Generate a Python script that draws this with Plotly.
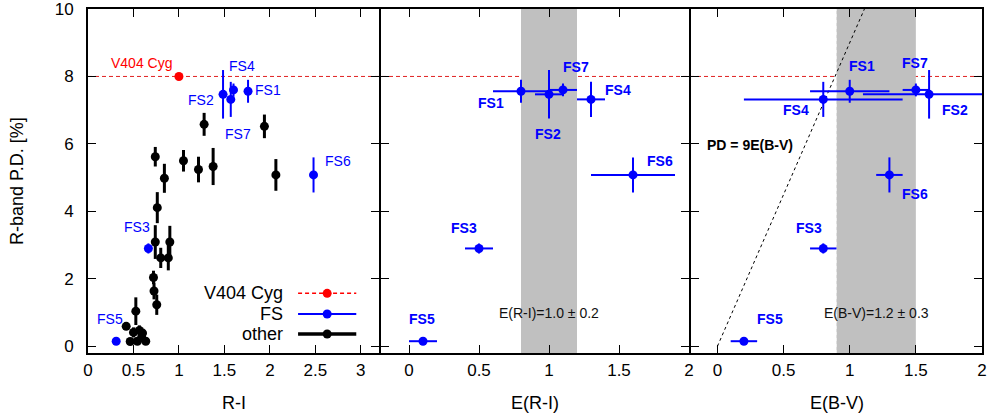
import plotly.graph_objects as go

# ---------------- data ----------------
fs_names = ["FS1", "FS2", "FS3", "FS4", "FS5", "FS6", "FS7"]
fs_ri = [1.76, 1.485, 0.664, 1.57, 0.31, 2.48, 1.60]
fs_pd = [7.56, 7.47, 2.90, 7.32, 0.15, 5.08, 7.60]
fs_pd_err = [0.34, 0.72, 0.15, 0.52, 0.05, 0.52, 0.19]
fs_eri = [0.8, 1.0, 0.5, 1.3, 0.1, 1.6, 1.1]
fs_eri_err = [0.2, 0.1, 0.1, 0.1, 0.1, 0.3, 0.1]
fs_ebv = [1.0, 1.6, 0.8, 0.8, 0.2, 1.3, 1.5]
fs_ebv_err = [0.3, 0.5, 0.1, 0.6, 0.1, 0.1, 0.1]

v404_ri = [1.0]
v404_pd = [8.0]

other_ri = [1.277, 1.94, 0.74, 0.84, 1.05, 1.215, 1.376, 2.066, 0.762, 0.74,
            0.90, 0.80, 0.883, 0.72, 0.726, 0.756, 0.526, 0.42, 0.464, 0.50,
            0.543, 0.565, 0.60, 0.635, 0.59]
other_pd = [6.58, 6.52, 5.62, 4.98, 5.50, 5.24, 5.33, 5.08, 4.11, 3.09,
            3.09, 2.62, 2.62, 2.04, 1.64, 1.23, 1.04, 0.59, 0.14, 0.41,
            0.15, 0.47, 0.39, 0.15, 0.27]
other_err = [0.34, 0.35, 0.29, 0.43, 0.32, 0.38, 0.55, 0.47, 0.46, 0.50,
             0.48, 0.30, 0.37, 0.20, 0.25, 0.30, 0.41, 0.08, 0.10, 0.15,
             0.10, 0.15, 0.12, 0.10, 0.10]

eri_mean, eri_sig = 1.0, 0.2
ebv_mean, ebv_sig = 1.2, 0.3
pd_slope = 9.0

x_ticks_left = [0, 0.5, 1, 1.5, 2, 2.5, 3]
x_ticks_right = [0, 0.5, 1, 1.5, 2]
y_ticks = [0, 2, 4, 6, 8, 10]

# ---------------- styling ----------------
FONT = "Liberation Sans, Arial, Helvetica, sans-serif"
BLUE = "#0000ff"
RED = "#ff0000"
BLACK = "#000000"

# panel domains (plot area is 894 px wide; a 2 px gap lets neighbouring
# frame lines land on top of each other)
W = 894.0
dom_left = [0, 291 / W]
dom_mid = [293 / W, 601 / W]
dom_right = [603 / W, 1.0]

# label offsets (pixels) for each FS label, per panel: (dx, dy)
lab_left = {"FS1": (20, 1), "FS2": (-22, -6), "FS3": (-11, 21), "FS4": (11, 33),
            "FS5": (-6, 22), "FS6": (24, 14), "FS7": (4, -44)}
lab_mid = {"FS1": (-30, -12), "FS2": (-1, -40), "FS3": (-15, 20), "FS4": (27, 9),
           "FS5": (-1, 22), "FS6": (27, 14), "FS7": (13, 23)}
lab_right = {"FS1": (12, 25), "FS2": (26, -16), "FS3": (-14, 20), "FS4": (-27, -11),
             "FS5": (26, 22), "FS6": (26, -19), "FS7": (-1, 27)}

fig = go.Figure()

# ---- left panel: P.D. vs R-I ----
fig.add_trace(go.Scatter(
    x=other_ri, y=other_pd, mode="markers",
    marker=dict(color=BLACK, size=9),
    error_y=dict(type="data", array=other_err, color=BLACK, thickness=3, width=0),
    xaxis="x", yaxis="y", showlegend=False))
fig.add_trace(go.Scatter(
    x=fs_ri, y=fs_pd, mode="markers",
    marker=dict(color=BLUE, size=9),
    error_y=dict(type="data", array=fs_pd_err, color=BLUE, thickness=2, width=0),
    xaxis="x", yaxis="y", showlegend=False))
fig.add_trace(go.Scatter(
    x=v404_ri, y=v404_pd, mode="markers",
    marker=dict(color=RED, size=9),
    xaxis="x", yaxis="y", showlegend=False))

# ---- middle panel: P.D. vs E(R-I) ----
fig.add_trace(go.Scatter(
    x=fs_eri, y=fs_pd, mode="markers",
    marker=dict(color=BLUE, size=9),
    error_x=dict(type="data", array=fs_eri_err, color=BLUE, thickness=2, width=0),
    error_y=dict(type="data", array=fs_pd_err, color=BLUE, thickness=2, width=0),
    xaxis="x2", yaxis="y2", showlegend=False))

# ---- right panel: P.D. vs E(B-V) ----
line_x = [0.0, 10.0 / pd_slope]
fig.add_trace(go.Scatter(
    x=line_x, y=[pd_slope * v for v in line_x], mode="lines",
    line=dict(color=BLACK, width=1, dash="dot"),
    xaxis="x3", yaxis="y3", showlegend=False))
fig.add_trace(go.Scatter(
    x=fs_ebv, y=fs_pd, mode="markers",
    marker=dict(color=BLUE, size=9),
    error_x=dict(type="data", array=fs_ebv_err, color=BLUE, thickness=2, width=0),
    error_y=dict(type="data", array=fs_pd_err, color=BLUE, thickness=2, width=0),
    xaxis="x3", yaxis="y3", showlegend=False))

# ---- hand-made key in the left panel (text on the left, sample on the right) ----
key_text_x = 2.17
key_x0, key_x1, key_xm = 2.31, 2.95, 2.63
key_rows = [
    ("V404 Cyg", 1.57, RED, 1.5, "4px,3px"),
    ("FS", 0.956, BLUE, 2, "solid"),
    ("other", 0.363, BLACK, 3.5, "solid"),
]
annotations = []
for name, ky, col, lw, dash in key_rows:
    fig.add_trace(go.Scatter(
        x=[key_x0, key_x1], y=[ky, ky], mode="lines",
        line=dict(color=col, width=lw, dash=dash),
        xaxis="x", yaxis="y", showlegend=False, hoverinfo="skip"))
    fig.add_trace(go.Scatter(
        x=[key_xm], y=[ky], mode="markers",
        marker=dict(color=col, size=9),
        xaxis="x", yaxis="y", showlegend=False, hoverinfo="skip"))
    annotations.append(dict(
        x=key_text_x, y=ky, xref="x", yref="y", text=name, showarrow=False,
        xanchor="right", yanchor="middle",
        font=dict(family=FONT, size=18, color=BLACK)))

# ---- FS labels ----
def add_labels(xs, offsets, xref, yref, bold):
    for name, xv, yv in zip(fs_names, xs, fs_pd):
        dx, dy = offsets[name]
        annotations.append(dict(
            x=xv, y=yv, xref=xref, yref=yref,
            text=f"<b>{name}</b>" if bold else name,
            showarrow=False, xanchor="center", yanchor="middle",
            xshift=dx, yshift=dy,
            font=dict(family=FONT, size=14, color=BLUE)))

add_labels(fs_ri, lab_left, "x", "y", False)
add_labels(fs_eri, lab_mid, "x2", "y2", True)
add_labels(fs_ebv, lab_right, "x3", "y3", True)

annotations.append(dict(
    x=v404_ri[0], y=v404_pd[0], xref="x", yref="y", text="V404 Cyg",
    showarrow=False, xanchor="center", yanchor="middle", xshift=-37, yshift=13,
    font=dict(family=FONT, size=14, color=RED)))

annotations.append(dict(
    x=eri_mean, y=0.99, xref="x2", yref="y2",
    text=f"E(R-I)={eri_mean:.1f} \u00b1 {eri_sig:.1f}",
    showarrow=False, xanchor="center", yanchor="middle",
    font=dict(family=FONT, size=14, color="#111111")))
annotations.append(dict(
    x=ebv_mean, y=0.99, xref="x3", yref="y3",
    text=f"E(B-V)={ebv_mean:.1f} \u00b1 {ebv_sig:.1f}",
    showarrow=False, xanchor="center", yanchor="middle",
    font=dict(family=FONT, size=14, color="#111111")))
annotations.append(dict(
    x=0.245, y=5.97, xref="x3", yref="y3", text="<b>PD = 9E(B-V)</b>",
    showarrow=False, xanchor="center", yanchor="middle",
    font=dict(family=FONT, size=14, color=BLACK)))

# axis titles
title_font = dict(family=FONT, size=18, color=BLACK)
annotations.append(dict(x=0, y=0.5, xref="paper", yref="paper", text="R-band P.D. [%]",
                        textangle=-90, showarrow=False, xanchor="center", yanchor="middle",
                        xshift=-71, font=title_font))
for dom, txt in [(dom_left, "R-I"), (dom_mid, "E(R-I)"), (dom_right, "E(B-V)")]:
    annotations.append(dict(x=(dom[0] + dom[1]) / 2, y=0, xref="paper", yref="paper", text=txt,
                            showarrow=False, xanchor="center", yanchor="middle",
                            yshift=-50, font=title_font))

# ---- shapes: reddening bands, V404 Cyg level ----
shapes = [
    dict(type="rect", xref="x2", yref="y2", x0=eri_mean - eri_sig, x1=eri_mean + eri_sig,
         y0=-0.2, y1=10, fillcolor="#c0c0c0", line=dict(width=0), layer="below"),
    dict(type="rect", xref="x3", yref="y3", x0=ebv_mean - ebv_sig, x1=ebv_mean + ebv_sig,
         y0=-0.2, y1=10, fillcolor="#c0c0c0", line=dict(width=0), layer="below"),
    dict(type="line", xref="x3", yref="y3", x0=ebv_mean - ebv_sig, x1=ebv_mean - ebv_sig,
         y0=-0.2, y1=10, line=dict(color="#eeeeee", width=1, dash="3px,3px"), layer="below"),
    dict(type="line", xref="paper", yref="y", x0=0, x1=1, y0=v404_pd[0], y1=v404_pd[0],
         line=dict(color="#e02020", width=1, dash="4px,3px"), layer="below"),
]

tick_font = dict(family=FONT, size=17, color=BLACK)
common_x = dict(showline=True, linecolor=BLACK, linewidth=2, mirror="ticks",
                ticks="inside", ticklen=8, tickwidth=1, tickcolor=BLACK,
                showgrid=False, zeroline=False, tickfont=tick_font,
                ticklabelstandoff=1, ticklabeloverflow="allow", automargin=False)
common_y = dict(showline=True, linecolor=BLACK, linewidth=2, mirror="ticks",
                ticks="inside", ticklen=8, tickwidth=1, tickcolor=BLACK,
                showgrid=False, zeroline=False, tickfont=tick_font,
                range=[-0.2, 10], tickvals=y_ticks, ticklabeloverflow="allow",
                automargin=False)

def fmt(v):
    return f"{v:g}"

fig.update_layout(
    width=988, height=419,
    margin=dict(l=88, r=6, t=9, b=66, autoexpand=False),
    paper_bgcolor="white", plot_bgcolor="white",
    showlegend=False,
    xaxis=dict(domain=dom_left, range=[0, 3.2], anchor="y",
               tickvals=x_ticks_left, ticktext=[fmt(v) for v in x_ticks_left], **common_x),
    xaxis2=dict(domain=dom_mid, range=[-0.2, 2], anchor="y2",
                tickvals=x_ticks_right, ticktext=[fmt(v) for v in x_ticks_right], **common_x),
    xaxis3=dict(domain=dom_right, range=[-0.2, 2], anchor="y3",
                tickvals=x_ticks_right, ticktext=[fmt(v) for v in x_ticks_right], **common_x),
    yaxis=dict(anchor="x", ticktext=[fmt(v) for v in y_ticks], ticklabelstandoff=9, **common_y),
    yaxis2=dict(anchor="x2", matches="y", showticklabels=False, **common_y),
    yaxis3=dict(anchor="x3", matches="y", showticklabels=False, **common_y),
    annotations=annotations,
    shapes=shapes,
)

fig.write_html("out.html")
